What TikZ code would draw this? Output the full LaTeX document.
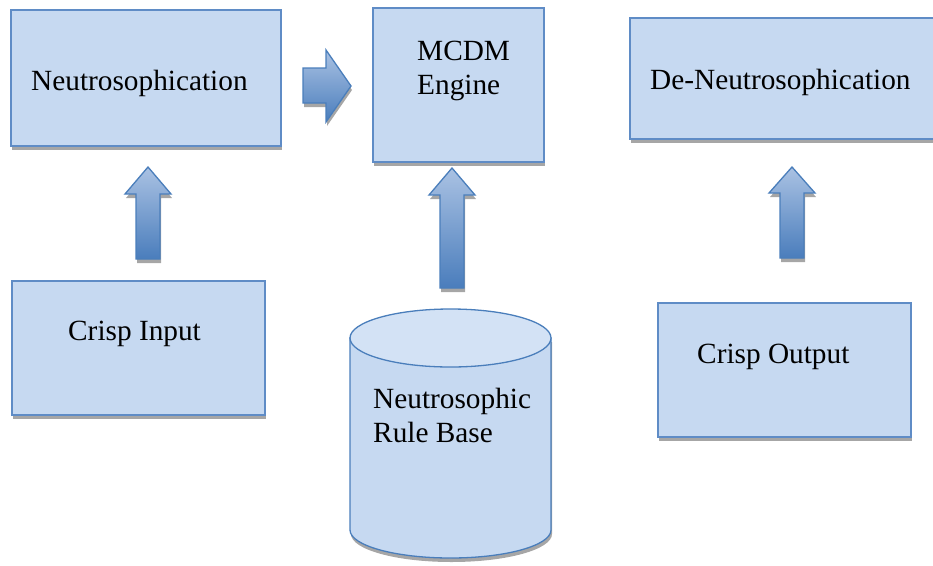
\documentclass[tikz,border=0pt]{standalone}
\usepackage{fontspec}
\setmainfont{Liberation Serif}
\usepackage{tikz}
\usetikzlibrary{shadows}

\definecolor{boxfill}{HTML}{C6D9F1}
\definecolor{boxedge}{HTML}{5F8CC6}
\definecolor{topfill}{HTML}{D3E2F5}
\definecolor{arrowtop}{HTML}{AAC2E3}
\definecolor{arrowbot}{HTML}{4A7DBC}
\definecolor{arrowedge}{HTML}{4A7EBB}

\begin{document}
\begin{tikzpicture}[x=1pt, y=-1pt,
	shade below/.style={drop shadow={shadow xshift=1pt, shadow yshift=-4pt, fill=black!35, opacity=1}},
	box/.style={draw=boxedge, line width=1.3pt, fill=boxfill, inner sep=0pt, shade below},
	txt/.style={inner sep=0pt, font=\fontsize{29.3}{34}\selectfont, align=left},
	blockarrow/.style={draw=arrowedge, line width=1.3pt, top color=arrowtop, bottom color=arrowbot, shade below}]

	\useasboundingbox (0,0) rectangle (933,565);

	% boxes
	\node[box, minimum width=270, minimum height=136] (neut)   at (146,78)    {};
	\node[box, minimum width=171, minimum height=154] (mcdm)   at (458.5,85)  {};
	\node[box, minimum width=315, minimum height=121] (deneut) at (787.5,78.5) {};
	\node[box, minimum width=253, minimum height=134] (input)  at (138.5,348) {};
	\node[box, minimum width=253, minimum height=134] (output) at (784.5,370) {};

	% rule base drum
	\path[draw=arrowedge, line width=1.3pt, fill=boxfill, shade below]
		(350,338) -- (350,530) arc[start angle=180, end angle=0, x radius=100.5, y radius=28] -- (551,338) -- cycle;
	\draw[draw=arrowedge, line width=1.3pt, fill=topfill] (450.5,338) ellipse[x radius=100.5, y radius=29];

	% labels
	\node[txt, anchor=base west] (neuttxt)   at (31,90)   {Neutrosophication};
	\node[txt, anchor=north west] (mcdmtxt)  at (417,41)  {MCDM\\Engine};
	\node[txt, anchor=base west] (deneuttxt) at (650,89)  {De-Neutrosophication};
	\node[txt, anchor=base west] (inputtxt)  at (68,340)  {Crisp Input};
	\node[txt, anchor=base west] (outputtxt) at (697,363) {Crisp Output};
	\node[txt, anchor=north west] (basetxt)  at (373,388) {Neutrosophic\\Rule Base};

	% block arrows
	\shade[blockarrow] (303,68) -- (326,68) -- (326,50) -- (351,86) -- (326,122) -- (326,103) -- (303,103) -- cycle;
	\foreach \ax/\tipy/\basey/\endy in {148/167/194/259, 452/168/195/288, 792/167/193/258}
		\shade[blockarrow] (\ax-12,\endy) -- (\ax-12,\basey) -- (\ax-23,\basey) -- (\ax,\tipy)
			-- (\ax+23,\basey) -- (\ax+12,\basey) -- (\ax+12,\endy) -- cycle;

\end{tikzpicture}
\end{document}
